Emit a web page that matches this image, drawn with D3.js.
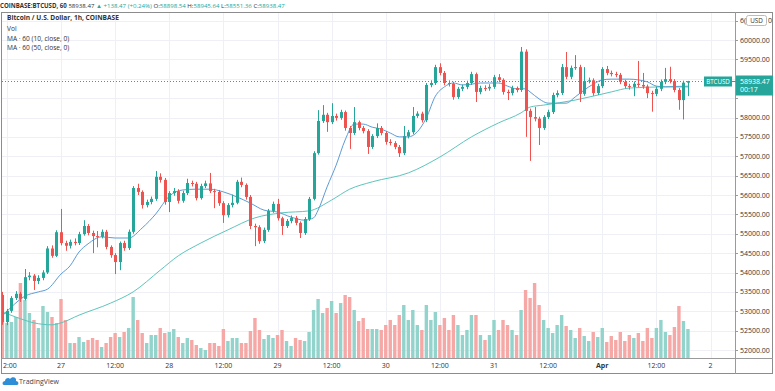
<!DOCTYPE html>
<html><head><meta charset="utf-8">
<script src="https://cdn.jsdelivr.net/npm/d3@7"></script>
<style>html,body{margin:0;padding:0;background:#fff;}svg{display:block;font-family:"Open Sans","Liberation Sans",Arial,sans-serif;}</style>
</head><body>
<svg id="c" width="775" height="391"></svg>
<script>
// ---- data (hourly bars, first bar Mar 26 11:00 UTC) ----
const firstBar = Date.UTC(2021, 2, 26, 11);
const opens = [53420,52720,53010,53340,53450,53320,53880,53920,53780,53860,54000,54620,54430,55040,54760,54690,54790,54760,54990,55200,55020,54940,54920,55050,54660,54450,54270,54760,54630,55050,56180,56080,55740,55820,55900,56470,56390,55820,56050,56100,55850,56050,56310,56290,55920,56230,56300,56100,56080,55790,55480,55740,55800,56340,56260,55950,55200,55170,54810,55100,55590,55770,55400,55200,55330,55410,55280,55020,55380,55900,57080,57910,58070,57880,58040,57990,58140,57730,57600,57880,57730,57650,57240,57520,57730,57600,57370,57340,57240,57080,57520,57620,58040,58100,57930,58840,58890,59300,59150,58890,58870,58530,58740,58790,58890,59120,58660,58760,58750,58790,59040,58970,58660,58630,58760,58710,59700,58170,58010,57970,57730,58010,58140,58580,58630,59300,59050,59280,59300,58610,58940,58960,58630,58810,59250,59150,59120,59100,58920,58810,58790,58870,58840,58800,58630,58610,58740,58920,58990,58940,58710,58450,58898.54];
const highs = [53500,53060,53390,53520,53500,54090,54010,53960,53930,54060,54680,54700,55090,55640,54820,54850,54880,55050,55350,55250,55080,55070,55110,55100,54700,54500,54800,54820,55110,56230,56290,56120,55880,55960,56620,56560,56440,56100,56180,56150,56110,56420,56370,56340,56290,56370,56570,56160,56130,55840,55790,56010,56390,56450,56300,56000,55260,55220,55160,55640,55830,55900,55440,55380,55470,55460,55320,55430,55950,57130,58190,58320,58120,58370,58100,58200,58180,57780,58270,57920,57780,57700,57570,57850,57780,57650,57440,57390,57290,57780,57680,58270,58160,58150,58890,58960,59360,59400,59200,58960,58920,58790,58850,58950,59180,59160,58820,58830,58860,59100,59120,59010,58720,58820,58800,59820,59760,58230,58270,58020,58060,58200,58640,58700,59380,59690,59340,59610,59360,59300,59030,59010,58870,59300,59330,59210,59180,59150,58970,58870,58930,59460,59150,58850,58690,58800,58980,59280,59310,58990,58760,58950,58945.64];
const lows = [52650,52640,52960,53290,53240,53280,53800,53550,53700,53800,53960,54380,54400,54700,54560,54620,54700,54710,54950,54960,54500,54650,54880,54600,54380,53960,54060,54560,54580,55000,56000,55650,55680,55760,55850,56320,55750,55560,55980,55780,55800,56000,56220,55860,55880,56180,56050,55660,55720,55280,55420,55680,55760,56200,55880,55120,54680,54740,54760,55050,55540,55340,54970,55150,55270,55220,54890,54970,55330,55860,57040,57860,57630,57830,57920,57940,57660,57190,57550,57670,57590,57060,57190,57470,57540,57300,57280,57180,56980,57030,57460,57570,57990,57870,57880,58780,58840,59090,58830,58800,58460,58480,58680,58730,58840,58400,58600,58680,58690,58740,58910,58590,58450,58570,58650,58660,57500,56880,57900,57290,57680,57960,58090,58520,58580,58990,58990,59230,58400,58560,58880,58560,58580,58760,59090,59060,59040,58860,58750,58720,58550,58780,58740,58500,58150,58550,58680,58860,58880,58650,58200,57950,58551.36];
const closes = [52720,53010,53340,53450,53320,53880,53920,53780,53860,54000,54620,54430,55040,54760,54690,54790,54760,54990,55200,55020,54940,54920,55050,54660,54450,54270,54760,54630,55050,56180,56080,55740,55820,55900,56470,56390,55820,56050,56100,55850,56050,56310,56290,55920,56230,56300,56100,56080,55790,55480,55740,55800,56340,56260,55950,55200,55170,54810,55100,55590,55770,55400,55200,55330,55410,55280,55020,55380,55900,57080,57910,58070,57880,58040,57990,58140,57730,57600,57880,57730,57650,57240,57520,57730,57600,57370,57340,57240,57080,57520,57620,58040,58100,57930,58840,58890,59300,59150,58890,58870,58530,58740,58790,58890,59120,58660,58760,58750,58790,59040,58970,58660,58630,58760,58710,59700,58170,58010,57970,57730,58010,58140,58580,58630,59300,59050,59280,59300,58610,58940,58960,58630,58810,59250,59150,59120,59100,58920,58810,58790,58870,58840,58800,58630,58610,58740,58920,58990,58940,58710,58450,58898.54,58938.47];
const volumes = [400,350,360,410,750,580,450,380,300,520,460,410,350,590,380,150,150,210,160,180,200,180,110,150,210,250,210,260,300,610,380,250,150,230,230,300,250,260,290,210,150,200,180,130,100,80,150,150,120,290,170,200,200,150,150,270,400,280,190,230,200,230,280,170,120,200,180,170,260,480,590,450,500,570,450,550,630,610,480,370,400,290,290,290,280,330,380,330,430,530,380,480,330,280,530,380,460,330,400,280,430,330,230,280,430,430,230,180,230,380,280,380,330,280,230,480,680,600,750,530,380,300,250,330,430,320,280,200,300,220,170,260,210,300,160,220,180,260,170,230,200,250,170,300,200,300,380,260,230,310,520,370,290];
// moving averages: [bar index, value]
const ma10 = [[0,52880],[2,53110],[5,53390],[8,53500],[10,53570],[13,53960],[15,54170],[17,54530],[19,54740],[22,54920],[25,54890],[28,54890],[31,55150],[34,55510],[37,55970],[40,56130],[43,56150],[46,56150],[49,56080],[52,55950],[55,55790],[58,55610],[61,55560],[64,55430],[67,55350],[69,55410],[70,55610],[72,56210],[74,56770],[76,57420],[78,57830],[80,57830],[82,57750],[84,57700],[86,57600],[88,57500],[90,57500],[92,57630],[94,57990],[96,58550],[98,58790],[100,58890],[102,58840],[104,58860],[106,58890],[108,58890],[110,58890],[112,58810],[114,58740],[116,58740],[117,58660],[119,58480],[121,58370],[123,58370],[125,58370],[127,58530],[129,58710],[131,58860],[133,58970],[135,58990],[137,58990],[139,58990],[141,58970],[143,58920],[145,58810],[147,58790],[149,58790],[152,58790]];
const ma50 = [[0,52980],[3,52850],[7,52700],[11,52650],[13,52700],[17,52900],[24,53210],[29,53500],[35,54060],[39,54430],[44,54760],[50,55100],[56,55410],[62,55540],[68,55590],[73,55870],[77,56150],[82,56340],[90,56570],[97,56980],[104,57500],[110,57860],[115,58120],[117,58270],[120,58320],[127,58450],[135,58660],[139,58760],[146,58790],[152,58810]];
const priceTicks = [52000,52500,53000,53500,54000,54500,55000,55500,56000,56500,57000,57500,58000,58500,59000,59500,60000,60500];
const timeTicks = ["2021-03-26T12:00Z","2021-03-27T00:00Z","2021-03-27T12:00Z","2021-03-28T00:00Z","2021-03-28T12:00Z","2021-03-29T00:00Z","2021-03-29T12:00Z","2021-03-30T00:00Z","2021-03-30T12:00Z","2021-03-31T00:00Z","2021-03-31T12:00Z","2021-04-01T00:00Z","2021-04-01T12:00Z","2021-04-02T00:00Z"];
const timeLabels = ["12:00","27","12:00","28","12:00","29","12:00","30","12:00","31","12:00","Apr","12:00","2"];

// ---- layout ----
const L = 2, R = 735, T = 12, B = 358;
const UP = "#26a69a", DN = "#ef5350", UPV = "#92d3cc", DNV = "#f6a8a6";
const svg = d3.select("#c");
const hour = 3600e3;
const barTime = i => new Date(firstBar + i * hour);
const x = d3.scaleUtc().domain([new Date(Date.UTC(2021,2,27)), new Date(Date.UTC(2021,3,2))]).range([61, 710.5]);
const y = d3.scaleLinear().domain([52000, 60000]).range([350, 40]);
const yv = d3.scaleLinear().domain([0, 1000]).range([B, B - 100]);
const bars = closes.map((c, i) => ({i, t: barTime(i), o: opens[i], h: highs[i], l: lows[i], c, v: volumes[i], up: c >= opens[i]}));

svg.append("defs").append("clipPath").attr("id","pc").append("rect").attr("x",L).attr("y",T).attr("width",R-L).attr("height",B-T);

// grid
const grid = svg.append("g").attr("clip-path","url(#pc)");
grid.selectAll("line.h").data(priceTicks).join("line").attr("x1",L).attr("x2",R)
  .attr("y1",d=>Math.round(y(d))+0.5).attr("y2",d=>Math.round(y(d))+0.5).attr("stroke","#eef0f5");
grid.selectAll("line.v").data(timeTicks).join("line").attr("y1",T).attr("y2",B)
  .attr("x1",d=>Math.round(x(new Date(d)))+0.5).attr("x2",d=>Math.round(x(new Date(d)))+0.5).attr("stroke","#eef0f5");

const plot = svg.append("g").attr("clip-path","url(#pc)");
// volume
plot.selectAll("rect.vol").data(bars).join("rect")
  .attr("x", d => x(d.t) - 1.7).attr("width", 3.4)
  .attr("y", d => yv(d.v)).attr("height", d => B - yv(d.v))
  .attr("fill", d => d.up ? UPV : DNV);
// MA lines
const maLine = d3.line().x(d => x(barTime(d[0]))).y(d => y(d[1])).curve(d3.curveMonotoneX);
plot.append("path").attr("d", maLine(ma50)).attr("fill","none").attr("stroke","#5cc5bc").attr("stroke-width",1);
plot.append("path").attr("d", maLine(ma10)).attr("fill","none").attr("stroke","#5d9bd4").attr("stroke-width",1);
// candles
plot.selectAll("line.wick").data(bars).join("line")
  .attr("x1", d => Math.round(x(d.t)) + 0.5).attr("x2", d => Math.round(x(d.t)) + 0.5)
  .attr("y1", d => y(d.h)).attr("y2", d => y(d.l))
  .attr("stroke", d => d.up ? UP : DN).attr("stroke-width", 1);
plot.selectAll("rect.body").data(bars).join("rect")
  .attr("x", d => Math.round(x(d.t)) - 1).attr("width", 3)
  .attr("y", d => y(Math.max(d.o, d.c)))
  .attr("height", d => Math.max(1, Math.abs(y(d.o) - y(d.c))))
  .attr("fill", d => d.up ? UP : DN);

// last price dotted line
const last = bars[bars.length - 1];
const ly = Math.round(y(last.c)) + 0.5;
svg.append("line").attr("x1",L).attr("x2",R).attr("y1",ly).attr("y2",ly)
  .attr("stroke",UP).attr("stroke-dasharray","1,2").attr("stroke-width",1);

// frame
svg.append("rect").attr("x",1.5).attr("y",12.5).attr("width",771).attr("height",361).attr("fill","none").attr("stroke","#8c8c8c");
svg.append("line").attr("x1",R+0.5).attr("x2",R+0.5).attr("y1",12).attr("y2",374).attr("stroke","#9a9a9a");
svg.append("line").attr("x1",1).attr("x2",773).attr("y1",B+0.5).attr("y2",B+0.5).attr("stroke","#9a9a9a");

// price axis (labels hidden under the last-price box are not drawn, as in the reference)
const boxTop = ly - 6, boxBot = ly + 14;
const visTicks = priceTicks.filter(d => y(d) + 3 < boxTop || y(d) - 4 > boxBot);
const ya = svg.append("g");
ya.selectAll("line").data(priceTicks).join("line").attr("x1",R).attr("x2",R+3)
  .attr("y1",d=>Math.round(y(d))+0.5).attr("y2",d=>Math.round(y(d))+0.5).attr("stroke","#9a9a9a");
ya.selectAll("text").data(visTicks.filter(d => d !== 60500)).join("text").attr("x",740).attr("y",d=>y(d)+2.5)
  .attr("font-size",7).attr("fill","#333").text(d=>d3.format(".2f")(d));
// top label partially covered by the currency box: only its visible ends are shown
svg.append("text").attr("x",740).attr("y",y(60500)+2.5).attr("font-size",7).attr("fill","#333").text("6(");
svg.append("text").attr("x",768).attr("y",y(60500)+2.5).attr("font-size",7).attr("fill","#333").text("0");
svg.append("rect").attr("x",746.5).attr("y",15.5).attr("width",20).attr("height",10).attr("rx",2).attr("fill","#fff").attr("stroke","#bbb");
svg.append("text").attr("x",756.5).attr("y",23).attr("text-anchor","middle").attr("font-size",6.3).attr("fill","#333").text("USD");
// last price labels
svg.append("rect").attr("x",736).attr("y",boxTop).attr("width",37).attr("height",20).attr("fill",UP);
svg.append("text").attr("x",740).attr("y",ly+2).attr("font-size",7).attr("fill","#fff").text(d3.format(".2f")(last.c));
svg.append("text").attr("x",740).attr("y",ly+10.5).attr("font-size",7).attr("fill","#fff").text("00:17");
svg.append("rect").attr("x",704).attr("y",ly-5).attr("width",28).attr("height",10).attr("fill",UP);
svg.append("text").attr("x",718).attr("y",ly+2.3).attr("text-anchor","middle").attr("font-size",6.2).attr("fill","#fff").text("BTCUSD");
svg.append("line").attr("x1",732).attr("x2",736).attr("y1",ly).attr("y2",ly).attr("stroke",UP);

// time axis (first label sits at the left edge, where only "2:00" of it shows)
const ta = svg.append("g");
ta.selectAll("text").data(timeTicks).join("text")
  .attr("x",(d,i)=> i === 0 ? 3 : x(new Date(d))).attr("y",368)
  .attr("text-anchor",(d,i)=> i === 0 ? "start" : "middle")
  .attr("font-size",7).attr("fill","#333")
  .attr("font-weight",(d,i)=>timeLabels[i]==="Apr"?"bold":"normal")
  .text((d,i)=> i === 0 ? timeLabels[i].slice(1) : timeLabels[i]);

// header
const hdr = svg.append("text").attr("x",0).attr("y",7.5).attr("font-size",6.1);
hdr.append("tspan").attr("font-weight","bold").attr("fill","#333").text("COINBASE:BTCUSD, 60 ");
hdr.append("tspan").attr("fill","#333").text("58938.47 ");
hdr.append("tspan").attr("fill",UP).text("▲ +138.47 (+0.24%) ");
hdr.append("tspan").attr("fill","#333").text("O:");
hdr.append("tspan").attr("fill",UP).text("58898.54 ");
hdr.append("tspan").attr("fill","#333").text("H:");
hdr.append("tspan").attr("fill",UP).text("58945.64 ");
hdr.append("tspan").attr("fill","#333").text("L:");
hdr.append("tspan").attr("fill",UP).text("58551.36 ");
hdr.append("tspan").attr("fill","#333").text("C:");
hdr.append("tspan").attr("fill",UP).text("58938.47");

// legend
const lg = [["Bitcoin / U.S. Dollar, 1h, COINBASE","bold",20],["Vol","normal",31],["MA · 60 (10, close, 0)","normal",41],["MA · 60 (50, close, 0)","normal",50]];
svg.selectAll("text.lg").data(lg).join("text").attr("x",7).attr("y",d=>d[2])
  .attr("font-size",6.6).attr("font-weight",d=>d[1]).attr("fill","#333").text(d=>d[0]);

// footer logo
const logo = svg.append("g").attr("transform","translate(3,376)");
logo.append("path").attr("d","M1,9 C-1,9 -1,5 2,5 C2,2 6,1 7,3 C9,0 14,1 13,5 C16,5 16,9 14,9 Z").attr("fill","#2e8fd6");
svg.append("text").attr("x",19).attr("y",384).attr("font-size",7).attr("fill","#444").text("TradingView");
</script>
</body></html>
